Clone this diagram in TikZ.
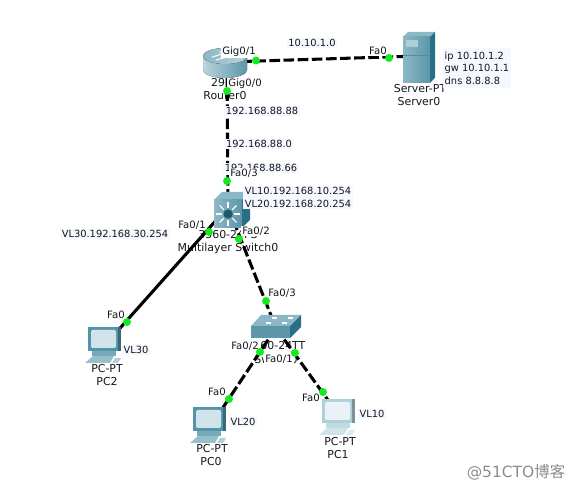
\documentclass[tikz,border=0pt]{standalone}
\usepackage{fontspec}
\setmainfont{DejaVu Sans}
\newfontfamily\cjkfont{Noto Sans CJK SC}
\definecolor{NoteBg}{RGB}{245,248,255}
\definecolor{DevTeal}{RGB}{92,150,168}
\definecolor{DevDark}{RGB}{38,112,135}
\definecolor{DevLight}{RGB}{140,184,198}
\definecolor{PortGreen}{RGB}{20,235,30}
\definecolor{TextDark}{RGB}{20,22,30}
\definecolor{PcBody}{RGB}{84,148,168}
\definecolor{PcScreen}{RGB}{208,227,234}
\definecolor{PcBodyPale}{RGB}{175,208,218}
\definecolor{PcScreenPale}{RGB}{234,242,246}
\usetikzlibrary{calc}
\tikzset{
  DevLabel/.style={text=TextDark, inner sep=0.5pt, font=\fontsize{8.2}{9}\selectfont},
  NoteLabel/.style={DevLabel, fill=NoteBg, inner sep=1.2pt, align=left, font=\fontsize{7.4}{9.4}\selectfont},
  PortLabel/.style={DevLabel, fill=white, inner sep=0.8pt, font=\fontsize{7.6}{9}\selectfont},
  PortDot/.style={circle, fill=PortGreen, inner sep=0pt, minimum size=6pt},
  LinkLine/.style={line width=2.3pt, black},
  LinkDash/.style={LinkLine, dash pattern=on 8pt off 2.6pt},
  pics/routericon/.style={code={
    \fill[left color=DevLight!60!white, right color=DevTeal] (-22,-7) -- (-22,7) arc[start angle=180, end angle=0, x radius=22, y radius=8] -- (22,-7) -- cycle;
    \fill[left color=DevTeal!70, right color=DevLight!60!white] (0,-7) ellipse[x radius=22, y radius=8];
    \draw[white, line width=0.7pt] (-13,-6) -- (-3,-9) (-9,-3) -- (2,-6) (-6,-11) -- (4,-12);
  }},
  pics/servericon/.style={code={
    \fill[DevLight] (-16,-20) -- (-11,-25) -- (16,-25) -- (11,-20) -- cycle;
    \fill[DevDark] (11,-20) -- (16,-25) -- (16,21) -- (11,26) -- cycle;
    \fill[left color=DevLight, right color=DevTeal] (-16,-20) rectangle (11,26);
    \fill[DevLight!70!white] (-13,-17) rectangle (-1,-10);
    \draw[DevDark!80, line width=0.4pt] (-16,-2) -- (11,-2);
  }},
  pics/mlsicon/.style={code={
    \fill[DevLight] (-14,-10) -- (-6,-18) -- (22,-18) -- (14,-10) -- cycle;
    \fill[DevDark] (14,-10) -- (22,-18) -- (22,10) -- (14,18) -- cycle;
    \fill[left color=DevLight, right color=DevTeal] (-14,-10) rectangle (14,18);
    \foreach \a in {0,45,...,315}
      \draw[white, line width=0.8pt] ($(0,4)+(\a:6)$) -- ($(0,4)+(\a:12)$);
    \fill[DevDark!80!black] (0,4) circle (4.6);
  }},
  pics/switchicon/.style={code={
    \fill[DevLight] (-25,-2) -- (-15,-13) -- (25,-13) -- (14,-2) -- cycle;
    \fill[DevDark] (14,-2) -- (25,-13) -- (25,-1) -- (14,10) -- cycle;
    \fill[DevTeal] (-25,-2) rectangle (14,10);
    \foreach \p in {(-10,-5),(6,-5),(-4,-10),(12,-10)}
      \draw[white, line width=0.8pt] \p -- ++(5,0);
  }},
  pics/pcicon/.style 2 args={code={
    \fill[#1!80] (-12,10) rectangle (12,15);
    \fill[#1!60] (-11,15) -- (10,15) -- (6,22) -- (-19,22) -- cycle;
    \fill[#1!45] (11,17) -- (17,17) -- (14,22) -- (8,22) -- cycle;
    \fill[#1] (-16,-14) rectangle (17,10);
    \fill[#1!70!black] (14,-14) rectangle (17,10);
    \fill[#2, rounded corners=1pt] (-13,-11) rectangle (12,7);
  }},
}
\begin{document}
\begin{tikzpicture}[x=0.75pt,y=-0.75pt]
  \useasboundingbox (0,0) rectangle (575,491);
  \coordinate (Router0) at (227,62);
  \coordinate (Server0) at (419,56);
  \coordinate (Mls0) at (228,207);
  \coordinate (Switch0) at (276,328);
  \coordinate (PC2) at (105,345);
  \coordinate (PC0) at (212,424);
  \coordinate (PC1) at (338,414);

  \node[DevLabel] (rtrModel) at (225,83) {2911};
  \node[DevLabel] (rtrName) at (225,96) {Router0};
  \node[DevLabel] (srvModel) at (420,89) {Server-PT};
  \node[DevLabel] (srvName) at (419,102) {Server0};
  \node[DevLabel] (mlsModel) at (228,235) {3560-24PS};
  \node[DevLabel] (mlsName) at (228,248) {Multilayer Switch0};
  \node[DevLabel] (swModel) at (276,346) {2960-24TT};
  \node[DevLabel] (swName) at (276,359) {Switch0};
  \node[DevLabel] (pc2Model) at (107,369) {PC-PT};
  \node[DevLabel] (pc2Name) at (107,382) {PC2};
  \node[DevLabel] (pc0Model) at (212,449) {PC-PT};
  \node[DevLabel] (pc0Name) at (211,462) {PC0};
  \node[DevLabel] (pc1Model) at (340,442) {PC-PT};
  \node[DevLabel] (pc1Name) at (338,455) {PC1};

  \draw[LinkDash] (Router0) -- (Server0);
  \draw[LinkDash] (Router0) -- (Mls0);
  \draw[LinkLine] (Mls0) -- (PC2);
  \draw[LinkDash] (Mls0) -- (Switch0);
  \draw[LinkDash] (Switch0) -- (PC0);
  \draw[LinkDash] (Switch0) -- (PC1);

  \pic at (225,63) {routericon};
  \pic at (419,57) {servericon};
  \pic at (228,210) {mlsicon};
  \pic at (276,328) {switchicon};
  \pic at (104,341) {pcicon={PcBody}{PcScreen}};
  \pic at (209,421) {pcicon={PcBody}{PcScreen}};
  \pic at (338,413) {pcicon={PcBodyPale}{PcScreenPale}};

  \node[NoteLabel] (netWan) at (312,43) {10.10.1.0};
  \node[NoteLabel, inner ysep=2.6pt] (srvNote) at (477,68) {ip 10.10.1.2\\gw 10.10.1.1\\dns 8.8.8.8};
  \node[NoteLabel] (rtrIp) at (262,111) {192.168.88.88};
  \node[NoteLabel] (netLan) at (259,144) {192.168.88.0};
  \node[NoteLabel] (mlsIp) at (261,168) {192.168.88.66};
  \node[NoteLabel] (mlsVlans) at (298,197.5) {VL10.192.168.10.254\\VL20.192.168.20.254};
  \node[NoteLabel] (mlsVl30) at (115,234) {VL30.192.168.30.254};
  \node[NoteLabel] (noteVl30) at (136,350) {VL30};
  \node[NoteLabel] (noteVl20) at (243,422) {VL20};
  \node[NoteLabel] (noteVl10) at (372,414) {VL10};

  \node[PortLabel] (rtrG1) at (239,52) {Gig0/1};
  \node[PortLabel] (rtrG0) at (245,84) {Gig0/0};
  \node[PortLabel] (srvF0) at (378,51) {Fa0};
  \node[PortLabel] (mlsF3) at (244,173) {Fa0/3};
  \node[PortLabel] (mlsF1) at (192,225) {Fa0/1};
  \node[PortLabel] (mlsF2) at (256,231) {Fa0/2};
  \node[PortLabel] (swF3) at (282,293) {Fa0/3};
  \node[PortLabel] (swF2) at (245,346) {Fa0/2};
  \node[PortLabel] (swF1) at (279,359) {Fa0/1};
  \node[PortLabel] (pc2F0) at (116,315) {Fa0};
  \node[PortLabel] (pc0F0) at (217,392) {Fa0};
  \node[PortLabel] (pc1F0) at (311,398) {Fa0};

  \node[PortDot] (dotRtrG1) at (256,60.5) {};
  \node[PortDot] (dotSrvF0) at (389,58) {};
  \node[PortDot] (dotRtrG0) at (227,91) {};
  \node[PortDot] (dotMlsF3) at (227,181) {};
  \node[PortDot] (dotMlsF1) at (209,232) {};
  \node[PortDot] (dotMlsF2) at (239,239) {};
  \node[PortDot] (dotSwF3) at (266,301) {};
  \node[PortDot] (dotSwF2) at (260,352) {};
  \node[PortDot] (dotSwF1) at (295,353) {};
  \node[PortDot] (dotPc2) at (127,322) {};
  \node[PortDot] (dotPc0) at (229,399) {};
  \node[PortDot] (dotPc1) at (323,392) {};

  \node[text=black!45, inner sep=0pt, font=\fontsize{11.6}{13}\selectfont] (watermark) at (516,472) {@51CTO{\cjkfont 博客}};
\end{tikzpicture}
\end{document}
